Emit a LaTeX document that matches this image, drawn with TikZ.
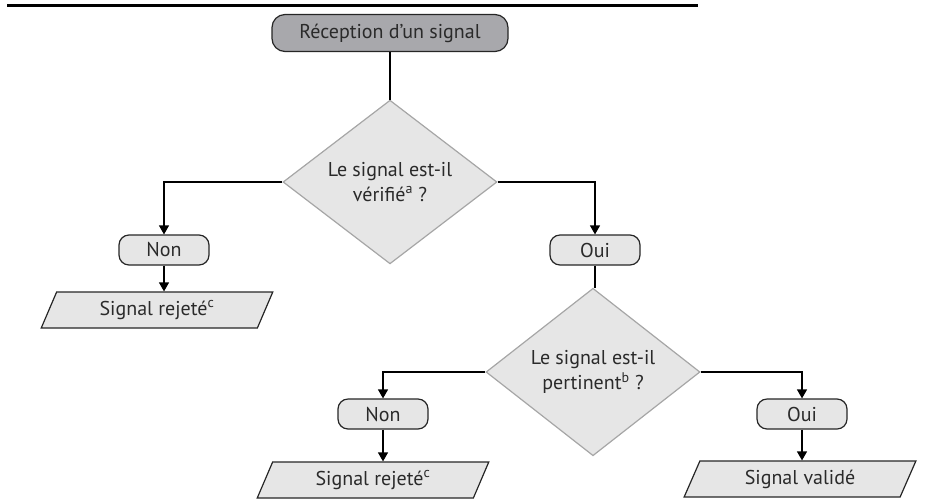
\documentclass[tikz,border=0pt]{standalone}
\usepackage{fontspec}
\setmainfont{PT Sans}
\usetikzlibrary{arrows.meta,shapes.geometric}
\definecolor{headgray}{HTML}{A8A8AC}
\definecolor{boxgray}{HTML}{E6E6E6}
\definecolor{textgray}{HTML}{2A2A2A}
\tikzset{
  basic/.style    = {draw=black!85, line width=1.2pt, text=textgray, align=center,
                     font=\fontsize{20}{25}\selectfont},
  start/.style    = {basic, rounded corners=13pt, fill=headgray,
                     minimum width=236pt, minimum height=37pt},
  answer/.style   = {basic, rounded corners=10pt, fill=boxgray,
                     minimum width=90pt, minimum height=30pt},
  decision/.style = {basic, diamond, draw=black!35, fill=boxgray, inner sep=0pt,
                     minimum width=214pt, minimum height=154pt},
  result/.style   = {basic, trapezium, trapezium left angle=70, trapezium right angle=110,
                     trapezium stretches=true, fill=boxgray,
                     minimum width=232pt, minimum height=36pt},
  link/.style     = {line width=1.2pt, -{Triangle[width=10pt,length=9pt]}}
}

\begin{document}
\begin{tikzpicture}[x=1pt,y=-1pt]
\useasboundingbox (0,0) rectangle (941,499);
% cut-off heading rule
\draw[line width=3pt] (7,5) -- (698,5);

\node[start] (recep) at (390,33) {Réception d’un signal};
\node[decision] (verif) at (390,182) {Le signal est-il\\vérifié\textsuperscript{a} ?};
\node[answer] (non1) at (164,250) {Non};
\node[answer] (oui1) at (595,250) {Oui};
\node[result] (rej1) at (157,310) {Signal rejeté\textsuperscript{c}};
\node[decision] (pert) at (593,372) {Le signal est-il\\pertinent\textsuperscript{b} ?};
\node[answer] (non2) at (383,414) {Non};
\node[answer] (oui2) at (802,414) {Oui};
\node[result] (rej2) at (373,480) {Signal rejeté\textsuperscript{c}};
\node[result] (valid) at (800,479) {Signal validé};

\draw[line width=1.2pt] (recep) -- (verif);
\draw[link] (verif.west) -| (non1.north);
\draw[link] (verif.east) -| (oui1.north);
\draw[link] (non1.south) -- (non1.south |- rej1.north);
\draw[line width=1.2pt] (oui1.south) -- (oui1.south |- pert.north);
\draw[link] (pert.west) -| (non2.north);
\draw[link] (pert.east) -| (oui2.north);
\draw[link] (non2.south) -- (non2.south |- rej2.north);
\draw[link] (oui2.south) -- (oui2.south |- valid.north);
\end{tikzpicture}
\end{document}
